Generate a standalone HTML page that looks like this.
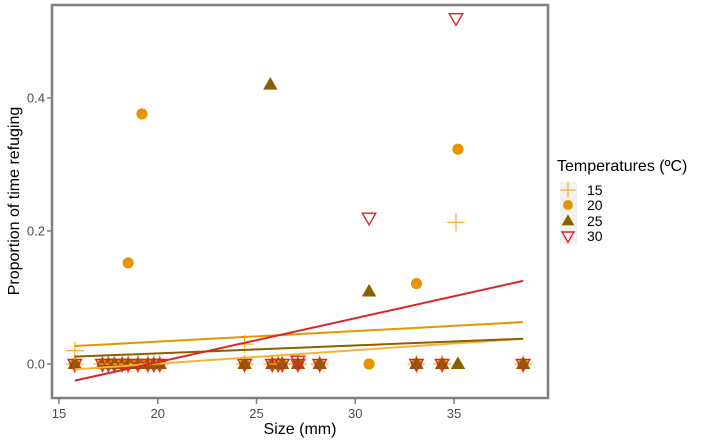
<!DOCTYPE html>
<html><head><meta charset="utf-8"><style>
body{margin:0;background:#fff;font-family:"Liberation Sans",sans-serif}
</style></head><body>
<svg id="c" width="710" height="438" xmlns="http://www.w3.org/2000/svg" font-family="Liberation Sans, sans-serif"></svg>
<script>
const xTicks=[15,20,25,30,35];
const yTicks=[0.0,0.2,0.4];
const yTickLabels=["0.0","0.2","0.4"];
const groups=["15","20","25","30"];
const zeroSizes=[15.8,17.2,17.5,17.8,18.2,18.5,19.0,19.5,19.8,20.1,24.4,25.8,26.1,26.3,27.1,28.2,33.1,34.4,38.5];
const pts15x=[15.8,24.4,35.1];const pts15y=[0.02,0.03,0.213];
const pts20x=[19.2,18.5,35.2,33.1,30.7];const pts20y=[0.376,0.152,0.323,0.121,0];
const pts25x=[25.7,30.7,35.2];const pts25y=[0.42,0.109,0];
const pts30x=[35.1,30.7,27.1];const pts30y=[0.52,0.22,0.005];
const lineX=[15.8,38.5];
const line15=[-0.008,0.038];
const line20=[0.027,0.063];
const line25=[0.011,0.038];
const line30=[-0.025,0.125];
const colors={"15":"#F9B233","20":"#E69500","25":"#8B5E00","30":"#D7262B"};
const X=v=>59+(v-15)*19.75, Y=v=>364-v*665;
const svg=document.getElementById('c');const NS="http://www.w3.org/2000/svg";
function mk(t,a,p){const e=document.createElementNS(NS,t);for(const k in a)e.setAttribute(k,a[k]);(p||svg).appendChild(e);return e;}
const panel=mk('rect',{x:52,y:5,width:496,height:393,fill:'#fff',stroke:'#7f7f7f','stroke-width':2.5});


xTicks.forEach(t=>{const l=mk('line',{x1:X(t),x2:X(t),y1:399,y2:404,stroke:'#7f7f7f','stroke-width':1.5});


const tx=mk('text',{x:X(t),y:418,'text-anchor':'middle','font-size':13,fill:'#4d4d4d'});tx.textContent=t;

});
yTicks.forEach((t,i)=>{const l=mk('line',{x1:47,x2:51,y1:Y(t),y2:Y(t),stroke:'#7f7f7f','stroke-width':1.5});


const tx=mk('text',{x:45,y:Y(t)+4.5,'text-anchor':'end','font-size':13,fill:'#4d4d4d'});tx.textContent=yTickLabels[i];

});
const xt=mk('text',{x:300,y:434,'text-anchor':'middle','font-size':16,fill:'#000'});xt.textContent='Size (mm)';


const yt=mk('text',{x:0,y:0,transform:'translate(19,201) rotate(-90)','text-anchor':'middle','font-size':16,fill:'#000'});yt.textContent='Proportion of time refuging';


function marker(g,x,y,s,p){const c=colors[g];let e;
if(g==="15"){e=mk('path',{d:`M${x-s},${y}H${x+s}M${x},${y-s}V${y+s}`,stroke:c,'stroke-width':1.3,fill:'none'},p);}
else if(g==="20"){e=mk('circle',{cx:x,cy:y,r:s*0.62,fill:c},p);}
else if(g==="25"){e=mk('path',{d:`M${x},${y-s*0.85}L${x+s*0.8},${y+s*0.55}L${x-s*0.8},${y+s*0.55}Z`,fill:c},p);}
else{e=mk('path',{d:`M${x-s*0.75},${y-s*0.5}L${x+s*0.75},${y-s*0.5}L${x},${y+s*0.8}Z`,fill:'none',stroke:c,'stroke-width':1.4},p);}
return e;}
const ptsG=mk('g',{});


zeroSizes.forEach(s=>{["15","20","25","30"].forEach(g=>{const m=marker(g,X(s),Y(0),9,ptsG);

});});
[[pts15x,pts15y,"15"],[pts20x,pts20y,"20"],[pts25x,pts25y,"25"],[pts30x,pts30y,"30"]].forEach(([xs,ys,g])=>{
xs.forEach((v,i)=>{const m=marker(g,X(v),Y(ys[i]),9,ptsG);

});});
[[line15,"15"],[line20,"20"],[line25,"25"],[line30,"30"]].forEach(([ys,g])=>{
const l=mk('line',{x1:X(lineX[0]),y1:Y(ys[0]),x2:X(lineX[1]),y2:Y(ys[1]),stroke:colors[g],'stroke-width':2});

});
const lt=mk('text',{x:557,y:171,'font-size':16,fill:'#000'});lt.textContent='Temperatures (ºC)';


const ly=[190,205,221,236];
groups.forEach((g,i)=>{const grp=mk('g',{});


mk('rect',{x:560,y:ly[i]-8,width:17,height:16,fill:'#f2f2f2'},grp);
marker(g,568,ly[i],8,grp);
const t=mk('text',{x:587,y:ly[i]+5,'font-size':14,fill:'#000'},grp);t.textContent=g;});
</script>
</body></html>
